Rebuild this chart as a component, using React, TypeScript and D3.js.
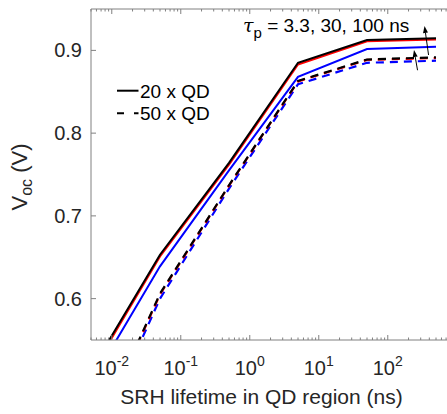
import React from "react";
import * as d3 from "d3";

const tauSRH = [0.005, 0.05, 0.5, 5, 50, 500];
const solidBlack = [0.513, 0.653, 0.764, 0.885, 0.9125, 0.9146];
const solidRed = [0.51, 0.651, 0.762, 0.883, 0.911, 0.9132];
const solidBlue = [0.498, 0.639, 0.755, 0.868, 0.9017, 0.9045];
const dashBlack = [0.422, 0.606, 0.737, 0.863, 0.889, 0.8916];
const dashRed = [0.421, 0.605, 0.7365, 0.8625, 0.8885, 0.8908];
const dashBlue = [0.415, 0.6, 0.733, 0.859, 0.885, 0.8875];

const yTicks = [0.6, 0.7, 0.8, 0.9];
const xMajor = [-2, -1, 0, 1, 2];

const W = 447;
const H = 414;
const L = 91;
const T = 9;
const B = 340;
const DEC = 69;

const FONT = "'Liberation Sans', Arial, sans-serif";
const TXT = "#262626";
const AX = "#808080";

export default function App() {
  const x = d3.scaleLog().domain([0.005, 1000]).range([L, L + DEC * Math.log10(1000 / 0.005)]);
  const y = d3.scaleLinear().domain([0.55, 0.95]).range([B, T]);
  const line = d3
    .line<[number, number]>()
    .x((d) => x(d[0]))
    .y((d) => y(d[1]));
  const pts = (v: number[]) => tauSRH.map((t, i) => [t, v[i]] as [number, number]);

  const minor: number[] = [];
  for (let e = -3; e <= 3; e++) {
    for (let m = 2; m <= 9; m++) {
      const v = m * Math.pow(10, e);
      if (v >= 0.005 && v <= 1000) minor.push(v);
    }
  }
  const R = x(1000);

  const series = [
    { v: dashBlue, c: "#0000ff", dash: "8,6", w: 2.2 },
    { v: dashRed, c: "#ff0000", dash: "8,6", w: 2.2 },
    { v: dashBlack, c: "#000000", dash: "8,6", w: 2.2 },
    { v: solidBlue, c: "#0000ff", dash: null, w: 2 },
    { v: solidRed, c: "#ff0000", dash: null, w: 2 },
    { v: solidBlack, c: "#000000", dash: null, w: 2 },
  ];

  const arrows = [
    { from: [390, 0.8944], to: [341, 0.9295] },
    { from: [270, 0.876], to: [240, 0.9004] },
  ];

  return (
    <svg width={W} height={H} style={{ display: "block", position: "absolute", left: 0, top: 0, background: "#fff" }}>
      <defs>
        <clipPath id="plotclip">
          <rect x={L} y={T} width={R - L} height={B - T} />
        </clipPath>
      </defs>
      <rect x={0} y={0} width={W} height={H} fill="#fff" />
      <g clipPath="url(#plotclip)">
        {series.map((s, i) => (
          <path
            key={i}
            d={line(pts(s.v)) || ""}
            fill="none"
            stroke={s.c}
            strokeWidth={s.w}
            strokeDasharray={s.dash || undefined}
          />
        ))}
      </g>
      {/* axes */}
      <line x1={L} y1={B} x2={R} y2={B} stroke={AX} strokeWidth={1} />
      <line x1={L} y1={T} x2={R} y2={T} stroke={AX} strokeWidth={1} />
      <line x1={L} y1={T} x2={L} y2={B} stroke={AX} strokeWidth={1} />
      {xMajor.map((e) => {
        const px = x(Math.pow(10, e));
        return (
          <g key={"xm" + e}>
            <line x1={px} y1={B} x2={px} y2={B - 5} stroke={AX} />
            <line x1={px} y1={T} x2={px} y2={T + 5} stroke={AX} />
          </g>
        );
      })}
      {minor.map((v, i) => {
        const px = x(v);
        return (
          <g key={"xn" + i}>
            <line x1={px} y1={B} x2={px} y2={B - 2.5} stroke={AX} />
            <line x1={px} y1={T} x2={px} y2={T + 2.5} stroke={AX} />
          </g>
        );
      })}
      {yTicks.map((t) => (
        <g key={"y" + t}>
          <line x1={L} y1={y(t)} x2={L + 5} y2={y(t)} stroke={AX} />
          <text x={L - 9} y={y(t) + 7} textAnchor="end" fontFamily={FONT} fontSize={20} fill={TXT}>
            {t.toFixed(1)}
          </text>
        </g>
      ))}
      {xMajor.map((e) => (
        <text
          key={"xl" + e}
          x={x(Math.pow(10, e))}
          y={375}
          textAnchor="middle"
          fontFamily={FONT}
          fontSize={20}
          fill={TXT}
        >
          10
          <tspan fontSize={14} dy={-9}>
            {String(e)}
          </tspan>
        </text>
      ))}
      <text x={261.5} y={404} textAnchor="middle" fontFamily={FONT} fontSize={21} fill={TXT}>
        SRH lifetime in QD region (ns)
      </text>
      <text
        transform={`translate(${27},${177}) rotate(-90)`}
        textAnchor="middle"
        fontFamily={FONT}
        fontSize={22}
        fill={TXT}
      >
        V
        <tspan fontSize={16} dy={5}>
          oc
        </tspan>
        <tspan dy={-5}> (V)</tspan>
      </text>
      {/* legend */}
      <line x1={117} y1={90.7} x2={138.5} y2={90.7} stroke="#000" strokeWidth={2} />
      <text x={140} y={97.5} fontFamily={FONT} fontSize={19} fill="#000">
        20 x QD
      </text>
      <line x1={117} y1={113.3} x2={138.5} y2={113.3} stroke="#000" strokeWidth={2} strokeDasharray="7,10" />
      <text x={140} y={120} fontFamily={FONT} fontSize={19} fill="#000">
        50 x QD
      </text>
      {/* annotation */}
      <text x={243} y={32} fontFamily={FONT} fontSize={19} fill="#000">
        <tspan fontStyle="italic" fontFamily="'DejaVu Serif', serif">τ</tspan>
        <tspan fontSize={15} dy={6}>p</tspan>
        <tspan dy={-6}> = 3.3, 30, 100 ns</tspan>
      </text>
      {arrows.map((a, i) => {
        const x1 = x(a.from[0]);
        const y1 = y(a.from[1]);
        const x2 = x(a.to[0]);
        const y2 = y(a.to[1]);
        const ang = Math.atan2(y2 - y1, x2 - x1);
        const len = 7;
        const wid = 2.5;
        const bx = x2 - len * Math.cos(ang);
        const by = y2 - len * Math.sin(ang);
        const px = -Math.sin(ang) * wid;
        const py = Math.cos(ang) * wid;
        return (
          <g key={"a" + i}>
            <line x1={x1} y1={y1} x2={bx} y2={by} stroke="#000" strokeWidth={1} />
            <path d={`M${x2},${y2}L${bx + px},${by + py}L${bx - px},${by - py}Z`} fill="#000" />
          </g>
        );
      })}
    </svg>
  );
}
